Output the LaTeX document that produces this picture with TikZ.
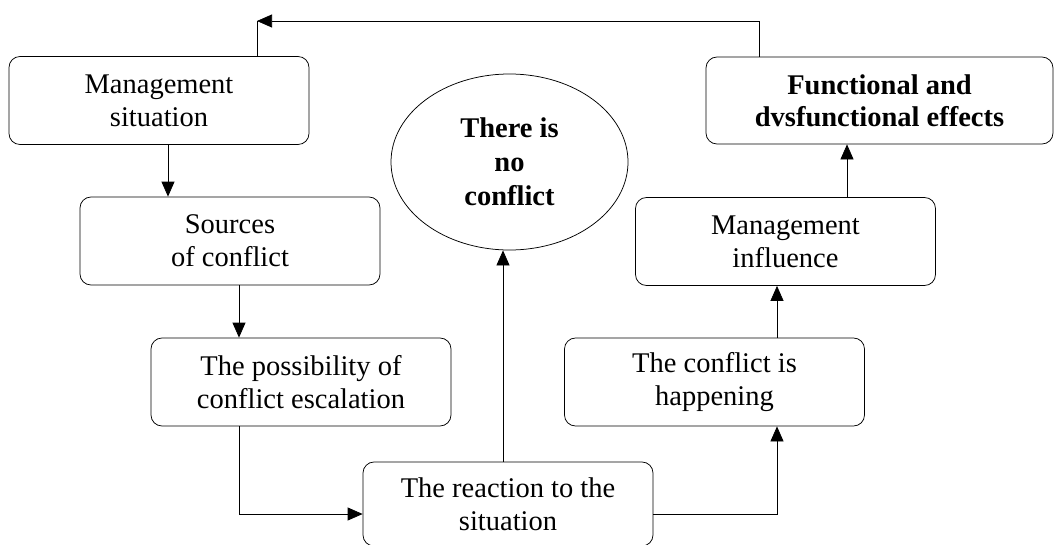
\documentclass[tikz,border=0pt]{standalone}
\usepackage{fontspec}
\setmainfont{Liberation Serif}
\usetikzlibrary{arrows.meta,shapes.geometric}

\begin{document}
\begin{tikzpicture}[x=1pt,y=-1pt,line width=0.75pt,
            -{Triangle[length=15pt,width=13pt]},
            main node/.style={draw,rounded corners=11pt,align=center,inner sep=0pt,
                minimum width=300pt,minimum height=88pt,
                font=\fontsize{28.5}{33}\selectfont},
            oval node/.style={draw,ellipse,align=center,inner sep=0pt,
                minimum width=237pt,minimum height=176pt,
                font=\fontsize{28.5}{34}\selectfont\bfseries}]

        \useasboundingbox (0,0) rectangle (1059,544);

        % Define vertices
        \node[main node] (ms) at (159,100.5) {Management\\situation};
        \node[main node] (sc) at (230,241) {Sources\\of conflict};
        \node[main node] (pe) at (301,382) {The possibility of\\conflict escalation};
        \node[main node,minimum width=290pt,minimum height=84pt] (re) at (508,504) {The reaction to the\\situation};
        \node[main node] (hp) at (714.5,382) {The conflict is\\happening};
        \node[main node] (mi) at (785.5,241.5) {Management\\influence};
        \node[main node,minimum width=347pt,minimum height=87pt,font=\fontsize{28.5}{32}\selectfont\bfseries] (fe) at (879.5,100.5) {Functional and\\dvsfunctional effects};
        \node[oval node] (nc) at (509.5,162) {There is\\no\\conflict};
        \coordinate (top) at (257,21);

        % Draw edges
        \path
            ([xshift=9pt]ms.south) edge ([xshift=-62pt]sc.north)
            ([xshift=9pt]sc.south) edge ([xshift=-62pt]pe.north)
            ([xshift=62.5pt]hp.north) edge ([xshift=-8.5pt]mi.south)
            ([xshift=61.5pt]mi.north) edge ([xshift=-32.5pt]fe.south)
            ([xshift=-5pt]re.north) edge ([xshift=-5pt]re.north |- nc.south);
        \draw ([xshift=-62pt]pe.south) |- ([yshift=-10pt]re.west);
        \draw ([yshift=-10pt]re.east) -| ([xshift=62.5pt]hp.south);
        \draw ([xshift=-120.5pt]fe.north) |- (top);
        \draw[-] (top |- ms.north) -- (top);

        \end{tikzpicture}
\end{document}
